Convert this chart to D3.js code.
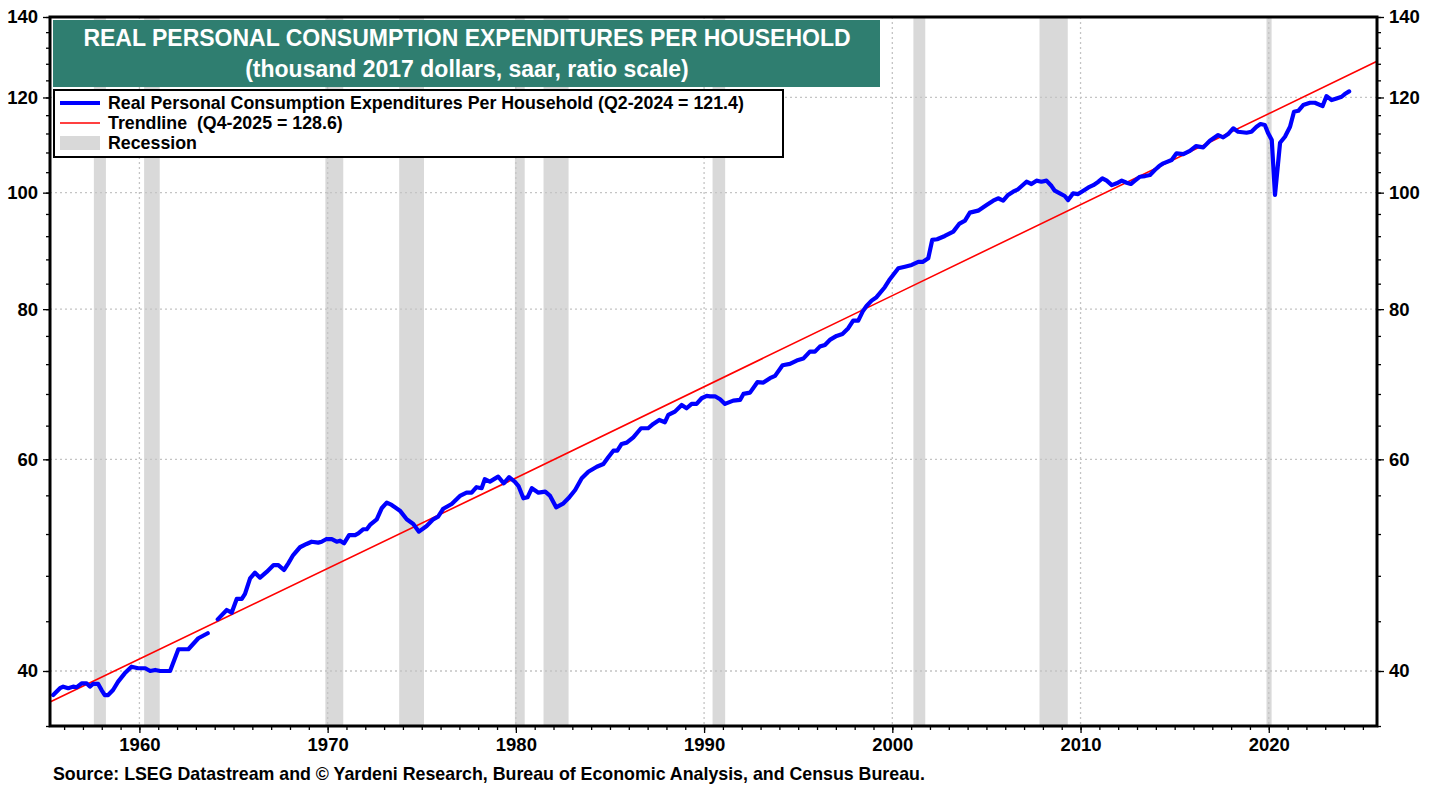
<!DOCTYPE html>
<html><head><meta charset="utf-8">
<script src="https://cdn.jsdelivr.net/npm/d3@7"></script>
<style>
body{margin:0;background:#fff;}
text{font-family:"Liberation Sans",Arial,sans-serif;font-weight:bold;white-space:pre;}
</style></head>
<body>
<svg id="chart" width="1439" height="789"></svg>
<script>
// ---------- DATA ----------
const pceYears = [1955.42,1955.78,1955.95,1956.22,1956.48,1956.66,1956.93,1957.19,1957.37,1957.54,1957.81,1957.99,1958.16,1958.34,1958.60,1958.87,1959.22,1959.58,1959.93,1960.31,1960.57,1960.84,1961.10,1961.63,1962.07,1962.60,1963.13,1963.63,1963.90,
1964.16,1964.64,1964.90,1965.17,1965.44,1965.61,1965.88,1966.14,1966.41,1966.76,1967.13,1967.38,1967.68,1967.91,1968.17,1968.53,1968.88,1969.15,1969.50,1969.68,1969.94,
1970.22,1970.48,1970.66,1970.87,1971.14,1971.46,1971.63,1971.90,1972.08,1972.25,1972.61,1972.87,1973.14,1973.40,1973.84,1974.20,1974.55,1974.85,1975.26,1975.61,1975.87,1976.14,1976.59,1977.03,1977.38,1977.65,1977.91,1978.18,1978.35,1978.62,1979.06,1979.36,1979.64,1979.94,
1980.14,1980.40,1980.62,1980.85,1981.20,1981.56,1981.82,1982.14,1982.53,1982.79,1983.15,1983.50,1983.85,1984.30,1984.65,1984.91,1985.18,1985.39,1985.62,1985.89,1986.24,1986.65,1987.03,1987.30,1987.62,1987.92,1988.10,1988.45,1988.81,1989.07,1989.34,1989.60,1989.87,
1990.14,1990.32,1990.58,1990.85,1991.11,1991.55,1991.91,1992.09,1992.44,1992.83,1993.15,1993.50,1993.77,1994.17,1994.56,1994.92,1995.27,1995.62,1995.89,1996.15,1996.42,1996.68,1997.04,1997.35,1997.66,1997.92,1998.19,1998.45,1998.63,1998.90,1999.16,1999.60,1999.87,
2000.32,2000.67,2001.03,2001.38,2001.61,2001.91,2002.12,2002.38,2002.79,2003.24,2003.55,2003.86,2004.12,2004.56,2005.01,2005.36,2005.62,2005.89,2006.15,2006.42,2006.68,2007.13,2007.39,2007.66,2007.92,2008.19,2008.46,2008.63,2008.90,2009.16,2009.34,2009.60,2009.87,
2010.15,2010.42,2010.68,2010.95,2011.16,2011.39,2011.66,2011.92,2012.19,2012.45,2012.67,2012.89,2013.16,2013.43,2013.69,2013.96,2014.18,2014.40,2014.84,2015.10,2015.46,2015.81,2016.13,2016.52,2016.87,2017.31,2017.58,2017.84,2018.11,2018.37,2018.82,2019.08,2019.35,2019.56,2019.79,2019.97,
2020.16,2020.33,2020.60,2020.86,2021.13,2021.34,2021.57,2021.83,2022.19,2022.45,2022.86,2023.07,2023.34,2023.60,2023.87,2024.04,2024.27];
const pceValues = [38.20,38.70,38.82,38.70,38.82,38.77,39.07,39.07,38.82,39.02,39.02,38.57,38.20,38.20,38.57,39.19,39.82,40.33,40.21,40.21,40.00,40.08,40.00,40.00,41.70,41.70,42.59,43.00,null,
44.16,44.96,44.73,45.92,45.92,46.36,47.77,48.29,47.83,48.36,49.00,49.00,48.54,49.16,49.95,50.70,51.02,51.24,51.15,51.24,51.51,
51.49,51.24,51.34,51.08,51.90,51.90,52.07,52.48,52.48,52.91,53.49,54.63,55.22,54.98,54.38,53.49,53.01,52.24,52.81,53.49,53.76,54.58,55.08,55.94,56.29,56.29,56.88,56.77,57.75,57.49,58.04,57.31,57.98,57.49,
57.01,55.68,55.79,56.77,56.29,56.40,55.94,54.73,55.15,55.68,56.58,57.86,58.59,59.16,59.47,60.24,61.00,61.00,61.79,61.95,62.59,63.68,63.68,64.21,64.70,64.42,65.32,65.74,66.59,66.17,66.72,66.72,67.45,
67.75,67.70,67.70,67.32,66.72,67.14,67.23,68.01,68.18,69.55,69.50,70.09,70.40,71.85,72.03,72.49,72.77,73.75,73.75,74.46,74.70,75.42,76.00,76.29,77.13,78.26,78.26,79.77,80.49,81.32,81.85,83.43,84.72,
86.52,86.78,87.07,87.57,87.57,88.20,91.34,91.46,92.04,92.81,94.18,94.77,96.24,96.61,97.67,98.48,98.93,98.48,99.56,100.19,100.65,102.12,101.67,102.32,102.12,102.32,101.27,100.37,99.86,99.36,98.59,99.86,99.73,
100.37,101.01,101.45,102.12,102.79,102.32,101.45,101.80,102.32,101.92,101.67,102.32,103.10,103.23,103.43,104.48,105.22,105.77,106.44,107.82,107.67,108.35,109.33,109.06,110.45,111.66,111.17,111.88,113.11,112.37,112.16,112.37,113.45,114.04,113.82,112.03,
110.60,99.56,110.04,111.31,113.45,116.76,116.98,118.27,118.79,118.79,118.04,120.32,119.41,119.79,120.17,120.79,121.40];

const trendYears = [1955.25, 1980.0, 2000.0, 2025.75];
const trendValues = [37.7, 57.9, 82.1, 128.6];

const recessionStart = [1957.58,1960.25,1969.88,1973.80,1979.95,1981.47,1990.45,2001.12,2007.82,2019.88];
const recessionEnd   = [1958.22,1961.08,1970.83,1975.12,1980.47,1982.80,1991.12,2001.75,2009.32,2020.15];

const yMajorTicks = [40,60,80,100,120,140];
const yMinorTicks = d3.range(36, 141, 4);
const xMajorTicks = [1960,1970,1980,1990,2000,2010,2020];
const xMinorTicks = d3.range(1956, 2026, 1);

const titleLines = ["REAL PERSONAL CONSUMPTION EXPENDITURES PER HOUSEHOLD","(thousand 2017 dollars, saar, ratio scale)"];
const legendLabels = ["Real Personal Consumption Expenditures Per Household (Q2-2024 = 121.4)","Trendline  (Q4-2025 = 128.6)","Recession"];
const sourceText = "Source: LSEG Datastream and \u00A9 Yardeni Research, Bureau of Economic Analysis, and Census Bureau.";

// ---------- LAYOUT ----------
const L = 50, R = 1377, T = 17, B = 726;
const svg = d3.select("#chart");
svg.append("rect").attr("width",1439).attr("height",789).attr("fill","#fff");

const x = d3.scaleLinear().domain([1955.25, 2025.75]).range([L, R]);
const y = d3.scaleLog().domain([36, 140]).range([B, T]);

// recession bands
svg.append("g").selectAll("rect").data(recessionStart).join("rect")
  .attr("x", (d)=>x(d)).attr("y", T)
  .attr("width", (d,i)=>x(recessionEnd[i]) - x(d)).attr("height", B - T)
  .attr("fill", "#d9d9d9");

// grid
const grid = svg.append("g").attr("stroke","#c4c4c4").attr("stroke-width",1.3).attr("stroke-dasharray","2,3");
grid.selectAll("line.h").data(yMajorTicks.filter(v=>v<140)).join("line").attr("class","h")
  .attr("x1", L).attr("x2", R).attr("y1", d=>y(d)).attr("y2", d=>y(d));
grid.selectAll("line.v").data(xMajorTicks).join("line").attr("class","v")
  .attr("x1", d=>x(d)).attr("x2", d=>x(d)).attr("y1", T).attr("y2", B);

// trend line
const trendData = trendYears.map((d,i)=>({t:d, v:trendValues[i]}));
svg.append("path").datum(trendData)
  .attr("d", d3.line().x(d=>x(d.t)).y(d=>y(d.v)))
  .attr("fill","none").attr("stroke","#ff0000").attr("stroke-width",1.6);

// main series
const pceData = pceYears.map((d,i)=>({t:d, v:pceValues[i]}));
svg.append("path").datum(pceData)
  .attr("d", d3.line().defined(d=>d.v!==null).x(d=>x(d.t)).y(d=>y(d.v)))
  .attr("fill","none").attr("stroke","#0000ff").attr("stroke-width",4.2)
  .attr("stroke-linejoin","round").attr("stroke-linecap","round");

// axes
function styleAxis(g){ g.select(".domain").remove(); g.selectAll("line").attr("stroke","#000").attr("stroke-width",1.3); g.selectAll("text").attr("fill","#000").style("font-size","18.5px").style("font-weight","bold").style("font-family","'Liberation Sans',Arial,sans-serif"); }
svg.append("g").attr("transform",`translate(${L},0)`).call(d3.axisLeft(y).tickValues(yMinorTicks).tickSize(4).tickFormat("")).call(styleAxis);
svg.append("g").attr("transform",`translate(${L},0)`).call(d3.axisLeft(y).tickValues(yMajorTicks).tickSize(7).tickPadding(5).tickFormat(d3.format("d"))).call(styleAxis);
svg.append("g").attr("transform",`translate(${R},0)`).call(d3.axisRight(y).tickValues(yMinorTicks).tickSize(4).tickFormat("")).call(styleAxis);
svg.append("g").attr("transform",`translate(${R},0)`).call(d3.axisRight(y).tickValues(yMajorTicks).tickSize(7).tickPadding(5).tickFormat(d3.format("d"))).call(styleAxis);
svg.append("g").attr("transform",`translate(0,${B})`).call(d3.axisBottom(x).tickValues(xMinorTicks).tickSize(4).tickFormat("")).call(styleAxis);
svg.append("g").attr("transform",`translate(0,${B})`).call(d3.axisBottom(x).tickValues(xMajorTicks).tickSize(7).tickPadding(5).tickFormat(d3.format("d"))).call(styleAxis);

// title box
svg.append("rect").attr("x",53).attr("y",20).attr("width",827).attr("height",67).attr("fill","#2f7e70");
svg.append("text").attr("x",467).attr("y",46).attr("text-anchor","middle").attr("fill","#fff").style("font-size","23px").text(titleLines[0]);
svg.append("text").attr("x",467).attr("y",77).attr("text-anchor","middle").attr("fill","#fff").style("font-size","23px").text(titleLines[1]);

// legend box
svg.append("rect").attr("x",54).attr("y",90).attr("width",729).attr("height",67).attr("fill","#fff").attr("stroke","#000").attr("stroke-width",2);
const ly = [103, 123, 143];
svg.append("line").attr("x1",60).attr("x2",100).attr("y1",ly[0]).attr("y2",ly[0]).attr("stroke","#0000ff").attr("stroke-width",4);
svg.append("line").attr("x1",60).attr("x2",100).attr("y1",ly[1]).attr("y2",ly[1]).attr("stroke","#ff0000").attr("stroke-width",1.6);
svg.append("rect").attr("x",60).attr("y",ly[2]-7).attr("width",40).attr("height",14).attr("fill","#d9d9d9");
legendLabels.forEach((t,i)=>{
  svg.append("text").attr("x",108).attr("y",ly[i]+6).attr("fill","#000").style("font-size","17.8px").text(t);
});

// frame
svg.append("rect").attr("x",L).attr("y",T).attr("width",R-L).attr("height",B-T).attr("fill","none").attr("stroke","#000").attr("stroke-width",3);

// source
svg.append("text").attr("x",53).attr("y",780).attr("fill","#000").style("font-size","17.8px").text(sourceText);
</script>
</body></html>
